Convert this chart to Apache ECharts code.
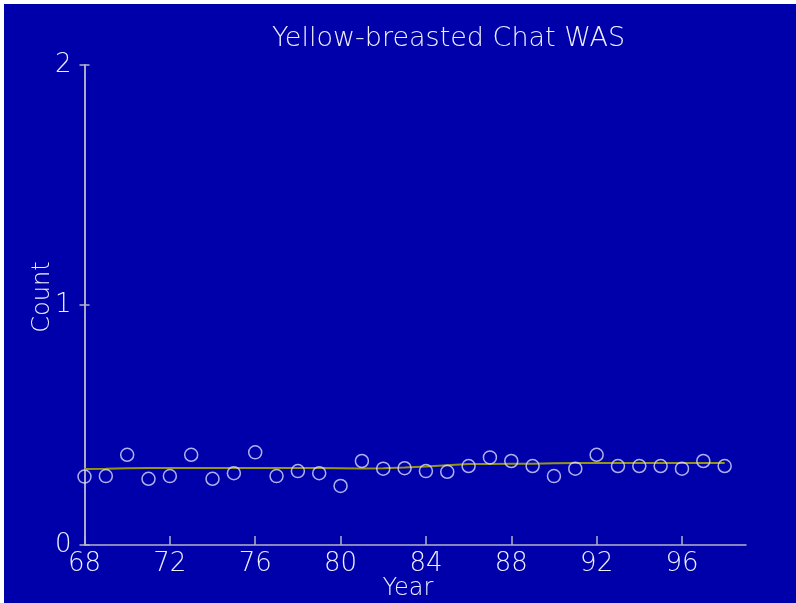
<!DOCTYPE html>
<html>
<head>
<meta charset="utf-8">
<script src="https://cdn.jsdelivr.net/npm/echarts@6/dist/echarts.min.js"></script>
<style>
html,body{margin:0;padding:0;background:#ffffff;overflow:hidden;}
#c{position:absolute;left:4px;top:4px;width:800px;height:610px;}
</style>
</head>
<body>
<div id="c"></div>
<script>
const titleText = 'Yellow-breasted Chat WAS';
const xName = 'Year';
const yName = 'Count';
const years = [68,69,70,71,72,73,74,75,76,77,78,79,80,81,82,83,84,85,86,87,88,89,90,91,92,93,94,95,96,97,98];
const counts = [0.285,0.287,0.376,0.276,0.287,0.376,0.276,0.299,0.386,0.287,0.308,0.299,0.246,0.350,0.318,0.320,0.308,0.305,0.329,0.365,0.350,0.329,0.287,0.318,0.376,0.329,0.329,0.329,0.318,0.350,0.329];
const trend = [0.317,0.318,0.320,0.321,0.321,0.321,0.321,0.321,0.321,0.321,0.321,0.321,0.320,0.319,0.320,0.323,0.327,0.332,0.337,0.338,0.339,0.339,0.341,0.342,0.342,0.342,0.342,0.342,0.342,0.342,0.342];
const xTicks = [68,72,76,80,84,88,92,96];
const yTicks = [0,1,2];

const BG = '#0000aa';
const AX = '#b4b4c8';
const TX = '#eeeeff';
const FONT = 'DejaVu Sans';
const FW = 200;

const chart = echarts.init(document.getElementById('c'), null, {renderer:'canvas'});
const yBase = {
  type:'value', min:0, max:2, interval:1,
  splitLine:{show:false},
  axisLine:{show:true, lineStyle:{color:AX, width:1.5}}
};
chart.setOption({
  backgroundColor: BG,
  animation:false,
  grid:{left:80.5, top:61, width:661.5, height:480, containLabel:false},
  xAxis:{
    type:'value', min:68, max:99,
    splitLine:{show:false},
    axisLine:{show:true, onZero:false, lineStyle:{color:AX, width:1.5}},
    axisTick:{show:true, inside:true, length:9, customValues:xTicks, lineStyle:{color:AX, width:1.5}},
    axisLabel:{show:true, customValues:xTicks, color:TX, fontFamily:FONT, fontWeight:FW, fontSize:26, margin:6}
  },
  yAxis:[
    Object.assign({}, yBase, {
      axisTick:{show:true, inside:false, length:5, customValues:yTicks, lineStyle:{color:AX, width:1.5}},
      axisLabel:{show:true, customValues:yTicks, color:TX, fontFamily:FONT, fontWeight:FW, fontSize:26, margin:13}
    }),
    Object.assign({}, yBase, {
      position:'left',
      axisTick:{show:true, inside:true, length:5, customValues:yTicks, lineStyle:{color:AX, width:1.5}},
      axisLabel:{show:false}
    })
  ],
  graphic:[
    {type:'text', x:444.5, y:35, style:{text:titleText, textAlign:'center', textVerticalAlign:'middle', fill:TX, font:'200 27px "DejaVu Sans"'}},
    {type:'text', x:39, y:293, rotation:Math.PI/2, style:{text:yName, textAlign:'center', textVerticalAlign:'middle', fill:TX, font:'200 24px "DejaVu Sans"'}},
    {type:'text', x:404, y:585, style:{text:xName, textAlign:'center', textVerticalAlign:'middle', fill:TX, font:'200 24px "DejaVu Sans"'}}
  ],
  series:[
    {
      type:'line', data:years.map((y,i)=>[y,trend[i]]),
      showSymbol:false, symbol:'none',
      lineStyle:{color:'#959514', width:2}, z:2
    },
    {
      type:'scatter', data:years.map((y,i)=>[y,counts[i]]),
      symbol:'circle', symbolSize:13,
      itemStyle:{color:'rgba(0,0,0,0)', borderColor:'#dcdcff', borderWidth:1.5}, z:3
    }
  ]
});
</script>
</body>
</html>
